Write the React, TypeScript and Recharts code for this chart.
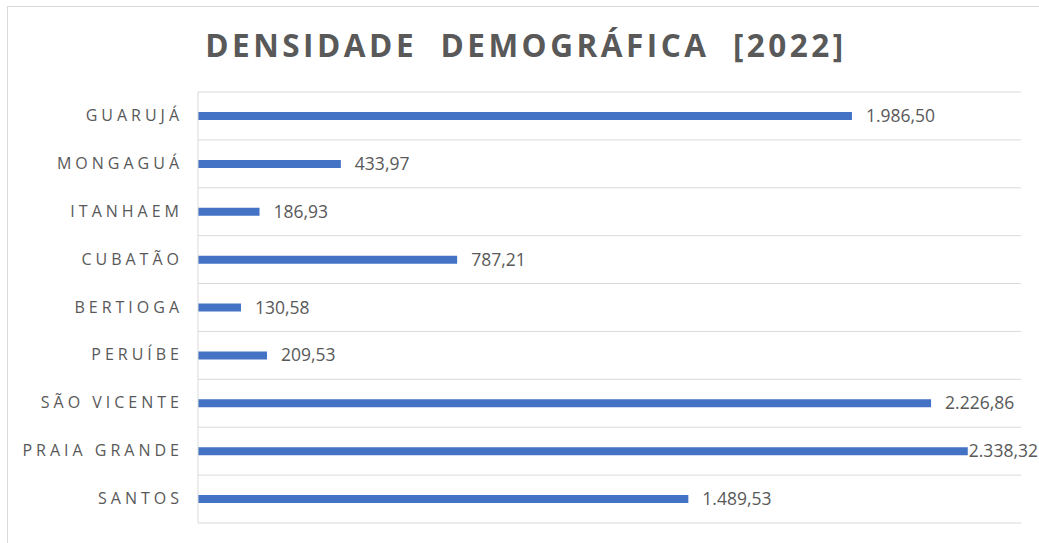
import { BarChart, Bar, XAxis, YAxis, CartesianGrid, LabelList } from 'recharts';

const cities = ['GUARUJÁ', 'MONGAGUÁ', 'ITANHAEM', 'CUBATÃO', 'BERTIOGA', 'PERUÍBE', 'SÃO VICENTE', 'PRAIA GRANDE', 'SANTOS'];
const density = [1986.5, 433.97, 186.93, 787.21, 130.58, 209.53, 2226.86, 2338.32, 1489.53];

const data = cities.map((city, i) => ({ city, value: density[i] }));

const FONT = "'Open Sans', 'Liberation Sans', sans-serif";
const GRAY = '#595959';
const W = 1039;

// 1234.5 -> "1.234,50"
function formatBR(v: number) {
    const [int, dec] = v.toFixed(2).split('.');
    return int.replace(/\B(?=(\d{3})+(?!\d))/g, '.') + ',' + dec;
}

function CityTick(props: any) {
    const { x, y, payload } = props;
    return (
        <text x={x} y={y} dy={5} textAnchor="end" fill={GRAY} fontSize={16} fontFamily={FONT} letterSpacing={4}>
            {payload.value}
        </text>
    );
}

// like Excel: a label that would run off the chart hugs the bar end
function ValueLabel(props: any) {
    const { x, y, width, height, value } = props;
    const text = formatBR(Number(value));
    const end = x + width;
    const gap = end + 14 + text.length * 9.5 > W ? 1 : 14;
    return (
        <text x={end + gap} y={y + height / 2} dy={6} fill={GRAY} fontSize={17.5} fontFamily={FONT}>
            {text}
        </text>
    );
}

// gridlines at the band edges, not the band centres
const bandEdges = ({ offset }: any) => {
    const step = offset.height / cities.length;
    return Array.from({ length: cities.length + 1 }, (_, i) => offset.top + i * step);
};

export default function App() {
    return (
        <div style={{ position: 'absolute', left: 0, top: 0, width: W, height: 543, overflow: 'hidden', background: '#fff' }}>
            <div style={{ position: 'absolute', left: 7, top: 6, width: 1100, height: 600, border: '1px solid #d9d9d9' }} />
            <div style={{
                position: 'absolute', left: 0, top: 23, width: 1052, textAlign: 'center',
                fontFamily: FONT, fontWeight: 700, fontSize: 31.5, letterSpacing: 3.5, color: GRAY, whiteSpace: 'pre',
            }}>
                {'DENSIDADE  DEMOGRÁFICA  [2022]'}
            </div>
            <div style={{ position: 'absolute', left: 0, top: 0 }}>
                <BarChart
                    width={W}
                    height={543}
                    data={data}
                    layout="vertical"
                    margin={{ top: 92, right: 18, bottom: 20, left: 8 }}
                >
                    <CartesianGrid vertical={false} stroke="#d9d9d9" horizontalCoordinatesGenerator={bandEdges} />
                    <XAxis type="number" domain={[0, 2500]} hide />
                    <YAxis
                        type="category"
                        dataKey="city"
                        width={190}
                        tickLine={false}
                        axisLine={{ stroke: '#d9d9d9' }}
                        tickMargin={9}
                        tick={<CityTick />}
                        interval={0}
                    />
                    <Bar dataKey="value" fill="#4472C4" barSize={8} isAnimationActive={false}>
                        <LabelList dataKey="value" content={<ValueLabel />} />
                    </Bar>
                </BarChart>
            </div>
        </div>
    );
}
